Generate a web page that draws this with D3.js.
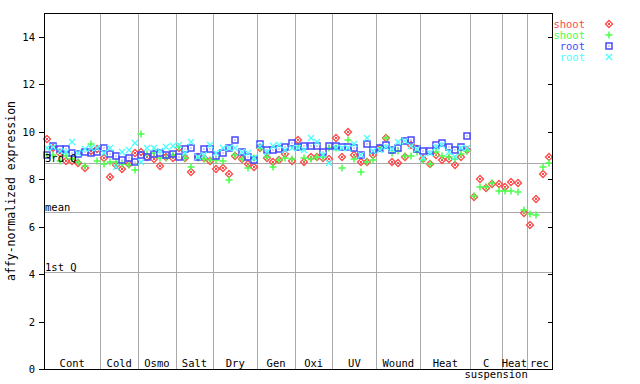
<!DOCTYPE html>
<html><head><meta charset="utf-8">
<script src="https://cdn.jsdelivr.net/npm/d3@7"></script>
<style>body{margin:0;background:#fff}svg{display:block}</style>
</head><body><svg id="c" width="640" height="384"></svg>
<script>
const groups = ["Cont","Cold","Osmo","Salt","Dry","Gen","Oxi","UV","Wound","Heat","C\nsuspension","Heat","rec"];
const groupSizes = [9,6,6,6,7,6,6,7,7,8,5,4,4];
const shootRep1 = [
 9.69,9.30,9.10,8.78,8.75,8.70,8.48,9.20,9.27,
 8.88,8.08,8.60,8.42,8.64,9.09,
 9.16,8.92,8.84,8.55,8.95,8.90,
 9.33,8.88,8.32,8.95,8.90,8.77,
 8.43,8.46,8.20,8.98,8.84,8.63,8.53,
 9.30,8.88,8.74,8.81,9.06,8.77,
 9.65,8.73,8.92,8.95,8.88,8.85,
 9.75,8.95,9.97,9.02,8.74,8.74,9.02,
 9.30,9.72,8.73,8.69,8.95,9.44,9.27,
 8.85,8.63,9.02,8.79,8.83,8.60,8.92,9.23,
 7.25,8.01,7.61,7.81,7.78,
 7.67,7.87,7.82,6.56,
 6.07,7.16,8.20,8.95];
const shootRep2 = [
 9.02,9.00,8.78,8.98,8.84,8.73,8.55,9.47,8.77,
 8.63,8.74,8.74,8.63,8.60,8.37,
 9.89,9.05,9.10,8.88,8.90,9.00,
 9.35,8.88,8.53,8.88,8.84,8.80,
 8.80,8.77,7.96,9.00,8.84,8.46,8.88,
 9.30,8.95,8.53,8.81,8.88,8.84,
 9.35,8.88,8.84,8.95,8.95,9.30,
 9.30,8.48,9.63,8.85,8.29,8.74,8.79,
 9.30,9.72,9.10,9.20,8.98,8.98,9.16,
 8.81,8.63,9.13,8.98,8.92,8.84,9.05,9.20,
 7.29,7.67,7.67,7.82,7.50,
 7.50,7.50,7.45,6.70,
 6.52,6.49,8.51,8.68];
const rootRep1 = [
 9.02,9.41,9.27,9.27,9.09,9.05,9.16,9.09,9.16,
 9.30,9.05,8.99,8.81,8.88,8.71,
 9.02,8.95,9.05,9.12,9.02,9.05,
 8.95,9.27,9.30,8.95,9.27,9.27,
 8.98,9.09,9.30,9.65,9.16,8.95,8.81,
 9.47,9.23,9.23,9.27,9.35,9.51,
 9.37,9.40,9.40,9.40,9.16,9.40,
 9.40,9.37,9.37,9.33,9.02,9.47,9.23,
 9.30,9.44,9.23,9.30,9.62,9.65,9.27,
 9.20,9.20,9.44,9.51,9.37,9.23,9.37,9.82];
const rootRep2 = [
 9.30,9.37,9.20,9.15,9.58,9.10,9.25,9.30,9.30,
 9.10,9.30,8.53,9.16,9.23,9.51,
 8.74,9.33,9.30,9.20,9.35,9.40,
 9.44,9.10,9.55,8.95,9.00,9.44,
 9.10,9.30,9.32,9.30,9.16,9.10,8.90,
 9.40,9.15,9.40,9.44,9.23,9.30,
 9.30,9.23,9.72,9.55,9.00,8.67,
 9.30,9.33,9.30,9.47,9.00,9.72,9.20,
 9.23,9.37,9.27,9.58,9.60,9.40,9.27,
 8.88,9.10,9.35,9.44,9.16,8.92,9.30,9.30];
const yTicks = [0,2,4,6,8,10,12,14];
const refLabels = ["3rd Q","mean","1st Q"];
const refValues = [8.67,6.62,4.07];
const legendLabels = ["shoot","shoot","root","root"];

const FONT = "'DejaVu Sans Mono', monospace";
const FS = 10.5;
const svg = d3.select("#c");
const nSamples = d3.sum(groupSizes);
const x = d3.scaleLinear().domain([0, nSamples]).range([44, 552]);
const y = d3.scaleLinear().domain([0, 15]).range([369, 13]);
const px = v => Math.round(v) + 0.5;

const series = [
  {vals: shootRep1, color: "#ff4848", shape: "diamond"},
  {vals: shootRep2, color: "#48ff48", shape: "plus"},
  {vals: rootRep1, color: "#4848ff", shape: "square"},
  {vals: rootRep2, color: "#48ffff", shape: "cross"}
];

const bounds = [0];
groupSizes.forEach(s => bounds.push(bounds[bounds.length-1] + s));

// separators
svg.append("g").selectAll("line").data(bounds.slice(1, -1)).join("line")
  .attr("x1", d => px(x(d))).attr("x2", d => px(x(d)))
  .attr("y1", y(15)).attr("y2", y(0))
  .attr("stroke", "#aaaaaa").attr("shape-rendering", "crispEdges");

// reference lines
const ref = svg.append("g");
ref.selectAll("line").data(refValues).join("line")
  .attr("x1", x(0)).attr("x2", x(nSamples))
  .attr("y1", d => px(y(d))).attr("y2", d => px(y(d)))
  .attr("stroke", "#aaaaaa").attr("shape-rendering", "crispEdges");

function drawMarker(g, shape, color) {
  if (shape === "diamond") {
    g.append("path").attr("d", "M0,-3.5L3.5,0L0,3.5L-3.5,0Z").attr("fill", "none").attr("stroke", color).attr("stroke-width", 1.3);
    g.append("rect").attr("x", -1).attr("y", -1).attr("width", 2).attr("height", 2).attr("fill", color);
  } else if (shape === "plus") {
    g.append("path").attr("d", "M-3.5,0H3.5M0,-3.5V3.5").attr("stroke", color).attr("stroke-width", 1.5);
  } else if (shape === "square") {
    g.append("rect").attr("x", -3).attr("y", -3).attr("width", 6).attr("height", 6)
      .attr("fill", "none").attr("stroke", color).attr("stroke-width", 1.5);
    g.append("rect").attr("x", -0.5).attr("y", -0.5).attr("width", 1).attr("height", 1).attr("fill", color);
  } else {
    g.append("path").attr("d", "M-3,-3L3,3M-3,3L3,-3").attr("stroke", color).attr("stroke-width", 1.3);
  }
}
series.forEach(s => {
  const g = svg.append("g");
  s.vals.forEach((v, i) => {
    const m = g.append("g").attr("transform", `translate(${Math.round(x(i + 0.5))},${Math.round(y(v))})`);
    drawMarker(m, s.shape, s.color);
  });
});

// reference labels on top of markers
svg.append("g").selectAll("text").data(refValues).join("text")
  .attr("x", x(0) + 1).attr("y", d => Math.round(y(d)) - 1)
  .attr("font-family", FONT).attr("font-size", FS).attr("fill", "#000")
  .text((d, i) => refLabels[i]);

// frame
svg.append("rect").attr("x", 44.5).attr("y", px(y(15))).attr("width", x(nSamples) - x(0))
  .attr("height", Math.round(y(0)) - Math.round(y(15))).attr("fill", "none").attr("stroke", "#000")
  .attr("shape-rendering", "crispEdges");

// y axis
const yax = svg.append("g");
yax.selectAll("line.l").data(yTicks).join("line").attr("class", "l")
  .attr("x1", 39).attr("x2", 44).attr("y1", d => px(y(d))).attr("y2", d => px(y(d)))
  .attr("stroke", "#000").attr("shape-rendering", "crispEdges");
yax.selectAll("line.r").data(yTicks).join("line").attr("class", "r")
  .attr("x1", 548).attr("x2", 552).attr("y1", d => px(y(d))).attr("y2", d => px(y(d)))
  .attr("stroke", "#000").attr("shape-rendering", "crispEdges");
yax.selectAll("text").data(yTicks).join("text")
  .attr("x", 35).attr("y", d => y(d) + 4).attr("text-anchor", "end")
  .attr("font-family", FONT).attr("font-size", FS).attr("fill", "#000")
  .text(d => d);

svg.append("text").attr("transform", "translate(15,191) rotate(-90)")
  .attr("text-anchor", "middle").attr("font-family", FONT).attr("font-size", 11.5)
  .attr("fill", "#000").text("affy-normalized expression");

// x group labels
groups.forEach((name, gi) => {
  const cx = x((bounds[gi] + bounds[gi + 1]) / 2);
  const lines = name.split("\n");
  lines.forEach((ln, li) => {
    svg.append("text").attr("x", li === 0 ? cx : cx + 10).attr("y", 367 + li * 11)
      .attr("text-anchor", "middle").attr("font-family", FONT).attr("font-size", FS)
      .attr("fill", "#000").text(ln);
  });
});

// legend
const lg = svg.append("g");
series.forEach((s, i) => {
  const ly = 24 + i * 11;
  lg.append("text").attr("x", 585).attr("y", ly + 4).attr("text-anchor", "end")
    .attr("font-family", FONT).attr("font-size", FS).attr("fill", s.color).text(legendLabels[i]);
  const m = lg.append("g").attr("transform", `translate(609,${ly})`);
  drawMarker(m, s.shape, s.color);
});
</script></body></html>
